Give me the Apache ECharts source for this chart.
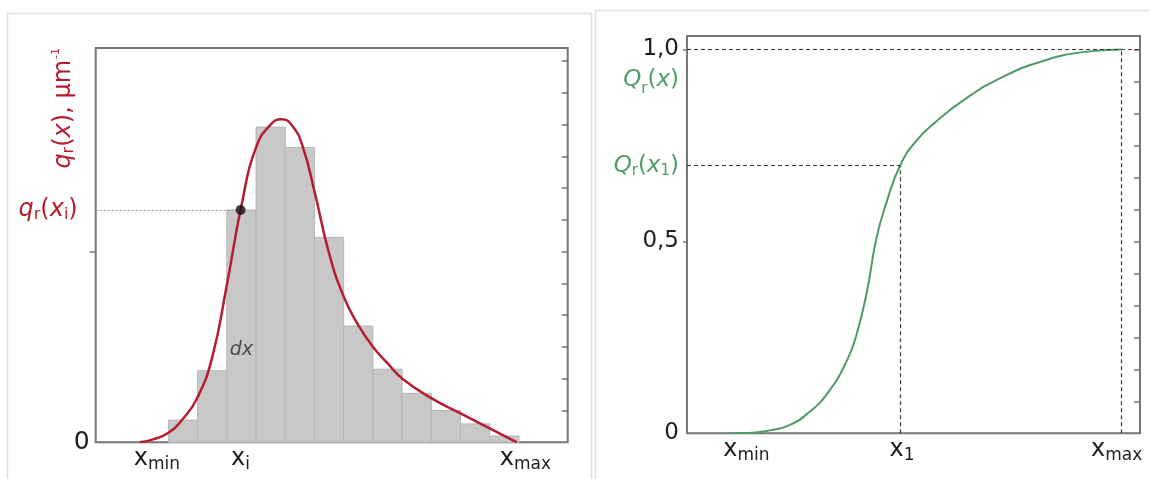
<!DOCTYPE html>
<html><head><meta charset="utf-8">
<script src="https://cdn.jsdelivr.net/npm/echarts@6/dist/echarts.min.js"></script>
<style>html,body{margin:0;padding:0;background:#fff}#c{width:1149px;height:479px}</style>
</head><body><div id="c"></div>
<script>
// ---------- Left panel: density distribution q_r(x) ----------
const binEdges   = [0, 1, 2, 3, 4, 5, 6, 7, 8, 9, 10, 11, 12];
const binHeights = [0.70, 2.25, 7.31, 9.92, 9.28, 6.45, 3.66, 2.30, 1.54, 1.00, 0.58, 0.20];
const densityX = [-0.98, -0.5, 0, 0.5, 1, 1.5, 2, 2.5, 3, 3.5, 3.87, 4.25, 4.6, 5, 5.5, 6, 6.5, 7, 7.5, 8, 9, 10, 11, 11.93];
const densityY = [0, 0.10, 0.30, 0.74, 1.42, 2.68, 4.95, 7.45, 9.28, 10.0, 10.17, 9.95, 9.3, 7.9, 5.95, 4.59, 3.69, 3.01, 2.49, 2.01, 1.39, 0.91, 0.44, 0];
const leftXMin = -0.98, leftXi = 2.47, leftXMax = 11.93, qAtXi = 7.31;
const dxLabelPos = [2.5, 2.9];
const leftXRange = [-2.49, 13.67];
const leftYMax = 12.41;
const leftAxisTicks = [6];
const leftRightTicks = [1, 2, 3, 4, 5, 6, 7, 8, 9, 10, 11, 12];

// ---------- Right panel: cumulative distribution Q_r(x) ----------
const cumX = [0, 0.5, 1, 1.5, 2, 2.5, 3, 3.25, 3.5, 3.75, 4, 4.35, 4.75, 5.25, 6, 7, 8, 9, 10];
const cumY = [0, 0.001, 0.007, 0.02, 0.052, 0.104, 0.19, 0.26, 0.365, 0.508, 0.599, 0.697, 0.76, 0.81, 0.87, 0.93, 0.97, 0.993, 1.0];
const rightXMin = 0, rightX1 = 4.35, rightXMax = 10, qAtX1 = 0.697;
const rightXRange = [-1.08, 10.47];
const rightYMax = 1.035;
const rightLeftTicks = [0.5, 1];
const rightRightTicks = [0.0833, 0.1667, 0.25, 0.3333, 0.4167, 0.5, 0.5833, 0.6667, 0.75, 0.8333, 0.9167, 1];

const F = 'DejaVu Sans';
const RED = '#b51d2d', GREEN = '#4f9a69', INK = '#1e1e1e', FRAME = '#767676';
const near = (a, b) => Math.abs(a - b) < 1e-6;

const subRich = () => ({
  x:  {fontSize: 24, color: INK, fontFamily: F},
  xa: {fontSize: 24, color: INK, fontFamily: F, padding: [0, 0, 0, 34]},
  xb: {fontSize: 24, color: INK, fontFamily: F, padding: [0, 0, 0, 17]},
  xc: {fontSize: 24, color: INK, fontFamily: F, padding: [0, 0, 0, 4]},
  s:  {fontSize: 17, color: INK, fontFamily: F, padding: [12, 0, 0, 0]},
  se: {fontSize: 17, color: INK, fontFamily: F, padding: [12, 10, 0, 0]}
});
const tickOnly = (grid, pos, max, vals, inside, len) => ({
  gridIndex: grid, type: 'value', position: pos, min: 0, max: max,
  axisLine: {show: false}, splitLine: {show: false}, axisLabel: {show: false},
  axisTick: {show: true, inside: inside, customValues: vals, length: len, lineStyle: {color: FRAME, width: 1.5}}
});

const chart = echarts.init(document.getElementById('c'));
chart.setOption({
  animation: false,
  backgroundColor: '#fff',
  textStyle: {fontFamily: F},
  graphic: [
    {type: 'rect', z: -10, silent: true, shape: {x: 7.5, y: 13.5, width: 584, height: 480}, style: {fill: '#fff', stroke: '#e0e0e0', lineWidth: 1.5}},
    {type: 'rect', z: -10, silent: true, shape: {x: 595.5, y: 10.5, width: 570, height: 480}, style: {fill: '#fff', stroke: '#e0e0e0', lineWidth: 1.5}},
    {type: 'text', z: 10, silent: true, x: 64, y: 48, rotation: Math.PI / 2,
     style: {text: '{q|q}{qs|r}{p|(}{q|x}{p|), µm}{sup|-1}', align: 'right', verticalAlign: 'middle',
       rich: {
         q: {fontSize: 24, fill: RED, fontFamily: F, fontStyle: 'italic'},
         qs: {fontSize: 16, fill: RED, fontFamily: F, padding: [10, 0, 0, 0]},
         p: {fontSize: 24, fill: RED, fontFamily: F},
         sup: {fontSize: 11, fill: RED, fontFamily: F, padding: [0, 0, 16, 1]}
       }}}
  ],
  grid: [
    {left: 95.7, top: 48, width: 472, height: 394.3, show: true, borderColor: FRAME, borderWidth: 2},
    {left: 687, top: 36, width: 453, height: 397.3, show: true, borderColor: FRAME, borderWidth: 2}
  ],
  xAxis: [
    {gridIndex: 0, type: 'value', min: leftXRange[0], max: leftXRange[1],
     axisLine: {show: false}, splitLine: {show: false}, axisTick: {show: false},
     axisLabel: {customValues: [leftXMin, leftXi, leftXMax], margin: 2, rich: subRich(),
       formatter: v => near(v, leftXMin) ? '{xa|x}{s|min}' : near(v, leftXi) ? '{x|x}{s|i}' : '{xb|x}{s|max}'}},
    {gridIndex: 1, type: 'value', min: rightXRange[0], max: rightXRange[1],
     axisLine: {show: false}, splitLine: {show: false}, axisTick: {show: false},
     axisLabel: {customValues: [rightXMin, rightX1, rightXMax], margin: 2, rich: subRich(),
       formatter: v => near(v, rightXMin) ? '{xa|x}{s|min}' : near(v, rightX1) ? '{xc|x}{s|1}' : '{x|x}{se|max}'}}
  ],
  yAxis: [
    {gridIndex: 0, type: 'value', min: 0, max: leftYMax,
     axisLine: {show: false}, splitLine: {show: false}, axisTick: {show: false},
     axisLabel: {customValues: [0, qAtXi], margin: 6,
       formatter: v => near(v, 0) ? '{z|0}' : '{q|q}{qs|r}{p|(}{q|x}{qs|i}{pe|)}',
       rich: {
         z: {fontSize: 25, color: INK, fontFamily: F},
         q: {fontSize: 24, color: RED, fontFamily: F, fontStyle: 'italic'},
         qs: {fontSize: 16, color: RED, fontFamily: F, padding: [10, 0, 0, 0]},
         p: {fontSize: 24, color: RED, fontFamily: F},
         pe: {fontSize: 24, color: RED, fontFamily: F, padding: [0, 12, 0, 0]}
       }}},
    tickOnly(0, 'right', leftYMax, leftRightTicks, true, 6),
    {gridIndex: 1, type: 'value', min: 0, max: rightYMax,
     axisLine: {show: false}, splitLine: {show: false}, axisTick: {show: false},
     axisLabel: {customValues: [0, 0.5, qAtX1, 1], margin: 8,
       formatter: v => near(v, 0) ? '{n|0}' : near(v, 0.5) ? '{n|0,5}'
         : near(v, 1) ? '{sp| }\n{n|1,0}\n{g|Q}{gs|r}{gp|(}{g|x}{gp|)}'
         : '{g2|Q}{gs2|r}{gp2|(}{g2|x}{gs2|1}{gp2|)}',
       rich: {
         sp: {fontSize: 10, lineHeight: 32},
         n: {fontSize: 23, color: INK, fontFamily: F, lineHeight: 30},
         g: {fontSize: 23, color: GREEN, fontFamily: F, fontStyle: 'italic', lineHeight: 32},
         gs: {fontSize: 15, color: GREEN, fontFamily: F, lineHeight: 20, verticalAlign: 'bottom'},
         gp: {fontSize: 23, color: GREEN, fontFamily: F, lineHeight: 32},
         g2: {fontSize: 23, color: GREEN, fontFamily: F, fontStyle: 'italic'},
         gs2: {fontSize: 15, color: GREEN, fontFamily: F, padding: [10, 0, 0, 0]},
         gp2: {fontSize: 23, color: GREEN, fontFamily: F}
       }}},
    tickOnly(1, 'right', rightYMax, rightRightTicks, true, 6),
    tickOnly(0, 'left', leftYMax, leftAxisTicks, false, 6),
    tickOnly(1, 'left', rightYMax, rightLeftTicks, false, 4)
  ],
  series: [
    {type: 'custom', xAxisIndex: 0, yAxisIndex: 0, z: 1,
     data: binHeights.map((h, i) => [binEdges[i], binEdges[i + 1], h]),
     encode: {x: [0, 1], y: 2},
     renderItem: (params, api) => {
       const p0 = api.coord([api.value(0), api.value(2)]);
       const p1 = api.coord([api.value(1), 0]);
       return {type: 'rect', shape: {x: p0[0], y: p0[1], width: p1[0] - p0[0], height: p1[1] - p0[1]},
               style: {fill: '#c8c8c8', stroke: '#b6b6b6', lineWidth: 1}};
     }},
    {type: 'line', xAxisIndex: 0, yAxisIndex: 0, z: 3, smooth: 0.5, showSymbol: false,
     data: densityX.map((x, i) => [x, densityY[i]]),
     lineStyle: {color: RED, width: 2.5}, itemStyle: {color: RED},
     markLine: {silent: true, symbol: ['none', 'none'], label: {show: false},
       lineStyle: {color: '#9a9a9a', type: [2, 2], width: 1},
       data: [[{coord: [leftXRange[0], qAtXi]}, {coord: [leftXi, qAtXi]}]]}},
    {type: 'scatter', xAxisIndex: 0, yAxisIndex: 0, z: 5, symbolSize: 10,
     data: [[leftXi, qAtXi]], itemStyle: {color: '#111'}},
    {type: 'scatter', xAxisIndex: 0, yAxisIndex: 0, z: 5, symbolSize: 0,
     data: [dxLabelPos],
     label: {show: true, position: 'inside', formatter: 'dx', fontSize: 19, fontStyle: 'italic', color: '#2a2a2a', fontFamily: F}},
    {type: 'line', xAxisIndex: 1, yAxisIndex: 2, z: 3, smooth: 0.5, showSymbol: false,
     data: cumX.map((x, i) => [x, cumY[i]]),
     lineStyle: {color: GREEN, width: 2}, itemStyle: {color: GREEN},
     markLine: {silent: true, symbol: ['none', 'none'], label: {show: false},
       lineStyle: {color: '#3a3a3a', type: [4, 3], width: 1.2},
       data: [
         [{coord: [rightXRange[0], 1]}, {coord: [rightXRange[1], 1]}],
         [{coord: [rightXRange[0], qAtX1]}, {coord: [rightX1, qAtX1]}],
         [{coord: [rightX1, 0]}, {coord: [rightX1, qAtX1]}],
         [{coord: [rightXMax, 0]}, {coord: [rightXMax, 1]}]
       ]}}
  ]
});
</script></body></html>
